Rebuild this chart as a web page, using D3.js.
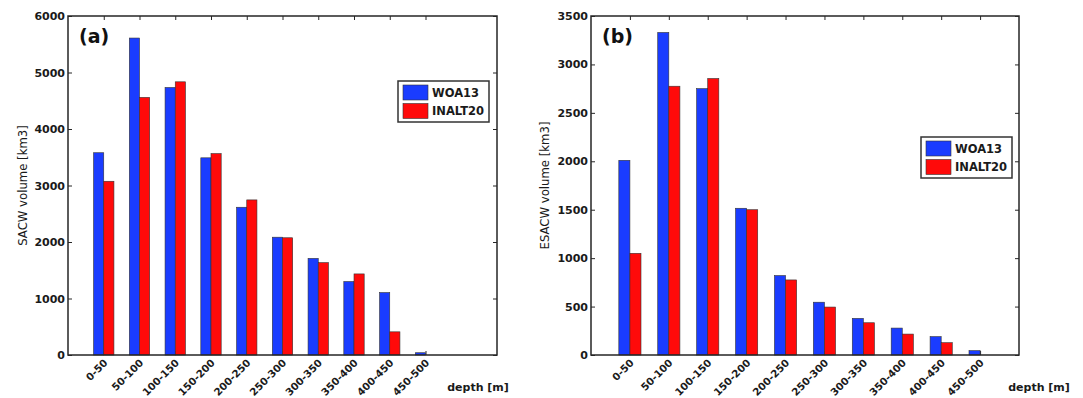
<!DOCTYPE html>
<html>
<head>
<meta charset="utf-8">
<script src="https://cdn.jsdelivr.net/npm/d3@7"></script>
<style>
  body { margin: 0; background: #fff; }
  svg { display: block; }
  .axis text { font-family: "DejaVu Sans", sans-serif; font-weight: bold; font-size: 11px; fill: #1a1a1a; }
  .axis path, .axis line { stroke: #262626; }
</style>
</head>
<body>
<div id="chart"></div>
<script>
// depth classes (x categories)
const depthBins = ["0-50", "50-100", "100-150", "150-200", "200-250", "250-300", "300-350", "350-400", "400-450", "450-500"];
const seriesNames = ["WOA13", "INALT20"];

// panel (a): SACW volume [km3]
const sacwWOA13 = [3580, 5610, 4735, 3490, 2615, 2085, 1710, 1300, 1105, 40];
const sacwINALT20 = [3075, 4560, 4835, 3565, 2745, 2075, 1635, 1435, 410, 0];
const sacwTicks = [0, 1000, 2000, 3000, 4000, 5000, 6000];

// panel (b): ESACW volume [km3]
const esacwWOA13 = [2010, 3330, 2750, 1515, 820, 545, 378, 278, 190, 45];
const esacwINALT20 = [1050, 2775, 2855, 1500, 775, 495, 333, 216, 127, 0];
const esacwTicks = [0, 500, 1000, 1500, 2000, 2500, 3000, 3500];

const colors = ["#1a3cff", "#ff0a0a"];
const W = 1083, H = 398;

const svg = d3.select('#chart').append('svg')
    .attr('width', W)
    .attr('height', H);

function drawPanel(p) {
    const x = d3.scaleLinear().domain([0, p.xMax]).range([p.left, p.right]);
    const y = d3.scaleLinear().domain([0, p.yMax]).range([p.bottom, p.top]);
    const g = svg.append('g');
    const bw = 0.285; // bar width in category units

    // inward ticks on all four sides
    g.append('g').attr('class', 'axis')
        .attr('transform', `translate(${p.left},0)`)
        .call(d3.axisLeft(y).tickValues(p.ticks).tickSize(-4).tickPadding(3).tickFormat(d3.format('d')))
        .call(a => a.select('.domain').remove());
    g.append('g').attr('class', 'axis')
        .attr('transform', `translate(${p.right},0)`)
        .call(d3.axisRight(y).tickValues(p.ticks).tickSize(-4).tickFormat(''))
        .call(a => a.select('.domain').remove());
    const idx = d3.range(1, p.cats.length + 1);
    g.append('g').attr('class', 'axis')
        .attr('transform', `translate(0,${p.top})`)
        .call(d3.axisTop(x).tickValues(idx).tickSize(-4).tickFormat(''))
        .call(a => a.select('.domain').remove());
    g.append('g').attr('class', 'axis')
        .attr('transform', `translate(0,${p.bottom})`)
        .call(d3.axisBottom(x).tickValues(idx).tickSize(-4).tickFormat(''))
        .call(a => a.select('.domain').remove());

    // bars
    p.series.forEach((vals, s) => {
        g.append('g').selectAll('rect')
            .data(vals)
            .enter()
            .append('rect')
            .attr('x', (d, i) => x(i + 1 - bw + s * bw))
            .attr('y', d => y(d))
            .attr('width', x(bw) - x(0))
            .attr('height', d => y(0) - y(d))
            .attr('fill', colors[s])
            .attr('stroke', '#333')
            .attr('stroke-width', 0.6);
    });

    // box
    g.append('rect')
        .attr('x', p.left).attr('y', p.top)
        .attr('width', p.right - p.left).attr('height', p.bottom - p.top)
        .attr('fill', 'none').attr('stroke', '#262626').attr('stroke-width', 1.5);

    // rotated category labels
    g.append('g').selectAll('text')
        .data(p.cats)
        .enter()
        .append('text')
        .attr('transform', (d, i) => `translate(${x(i + 1) + 2},${p.bottom + 6}) rotate(-45)`)
        .attr('text-anchor', 'end')
        .attr('dy', '0.35em')
        .style('font-family', '"DejaVu Sans", sans-serif')
        .style('font-weight', 'bold')
        .style('font-size', '10.2px')
        .attr('fill', '#1a1a1a')
        .text(d => d);

    g.append('text')
        .attr('x', p.xTitleX).attr('y', 391)
        .attr('text-anchor', 'middle')
        .style('font-family', '"DejaVu Sans", sans-serif')
        .style('font-weight', 'bold')
        .style('font-size', '11px')
        .attr('fill', '#1a1a1a')
        .text('depth [m]');

    g.append('text')
        .attr('transform', `translate(${p.yTitleX},${(p.top + p.bottom) / 2}) rotate(-90)`)
        .attr('text-anchor', 'middle')
        .attr('dy', '0.35em')
        .style('font-family', '"DejaVu Sans", sans-serif')
        .style('font-size', '11.7px')
        .attr('fill', '#1a1a1a')
        .text(p.yTitle);

    g.append('text')
        .attr('x', p.left + 11).attr('y', p.top + 27)
        .style('font-family', '"DejaVu Sans", sans-serif')
        .style('font-weight', 'bold')
        .style('font-size', '19px')
        .attr('fill', '#111')
        .text(p.label);

    // legend
    const lg = g.append('g').attr('transform', `translate(${p.legX},${p.legY})`);
    lg.append('rect')
        .attr('width', 91).attr('height', 41)
        .attr('fill', '#fff').attr('stroke', '#333').attr('stroke-width', 1.5);
    seriesNames.forEach((name, s) => {
        lg.append('rect')
            .attr('x', 5).attr('y', 4 + s * 18.5)
            .attr('width', 25).attr('height', 15)
            .attr('fill', colors[s]).attr('stroke', '#333').attr('stroke-width', 0.6);
        lg.append('text')
            .attr('x', 34).attr('y', 11.5 + s * 18.5)
            .attr('dy', '0.35em')
            .style('font-family', '"DejaVu Sans", sans-serif')
            .style('font-weight', 'bold')
            .style('font-size', '11.5px')
            .attr('fill', '#1a1a1a')
            .text(name);
    });
}

drawPanel({
    left: 68, right: 497, top: 16, bottom: 355, xMax: 12, yMax: 6000,
    ticks: sacwTicks, cats: depthBins, series: [sacwWOA13, sacwINALT20],
    yTitle: 'SACW volume [km3]', yTitleX: 23, xTitleX: 478, label: '(a)',
    legX: 398, legY: 81
});

drawPanel({
    left: 591, right: 1019, top: 16, bottom: 355, xMax: 11, yMax: 3500,
    ticks: esacwTicks, cats: depthBins, series: [esacwWOA13, esacwINALT20],
    yTitle: 'ESACW volume [km3]', yTitleX: 545, xTitleX: 1039, label: '(b)',
    legX: 921, legY: 137
});
</script>
</body>
</html>
